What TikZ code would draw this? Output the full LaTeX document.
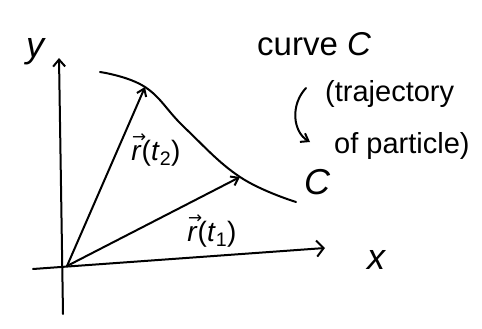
\documentclass[tikz,border=0pt]{standalone}
\usepackage{graphicx}
\usepackage{fontspec}
\setmainfont{Liberation Sans}
\newfontfamily\dv{DejaVu Sans}
\newcommand{\vecr}{\makebox[0pt][l]{\raisebox{0.62em}{\kern0.02em\dv\scalebox{0.6}{→}}}\textit{r}}
\usetikzlibrary{arrows.meta}
\begin{document}
\begin{tikzpicture}[x=1pt,y=-1pt,
  ink/.style={line width=2pt,line cap=round,line join=round},
  vec/.style={ink,-{Straight Barb[length=7pt,width=10pt]}},
  lab/.style={font=\fontsize{28}{30}\selectfont,inner sep=1pt},
  txt/.style={font=\fontsize{29}{32}\selectfont,inner sep=1pt,anchor=west},
  axlab/.style={font=\fontsize{36}{38}\selectfont\itshape,inner sep=1pt}]
\useasboundingbox (0,0) rectangle (482,329);
% points
\coordinate (O) at (67,266);
\coordinate (Ybot) at (63,314);
\coordinate (Ytop) at (59,58);
\coordinate (Xl) at (33,269);
\coordinate (Xr) at (325,248);
\coordinate (P2) at (145,87);
\coordinate (P1) at (240,177);
% axes
\draw[ink,-{Straight Barb[length=7pt,width=12pt]}] (Ybot) -- (Ytop);
\draw[ink,-{Straight Barb[length=7pt,width=16pt]}] (Xl) -- (Xr);
\node[axlab] (ylab) at (35,52) {y};
\node[axlab] (xlab) at (376,260) {x};
% curve
\draw[ink] plot[smooth,tension=0.7] coordinates {(100,72) (145,87) (185,128) (240,177) (296,202)};
% vectors
\draw[vec] (O) -- (P2);
\draw[vec] (O) -- (P1);
\node[lab] (r2) at (156,150) {\vecr(\textit{t}\textsubscript{2})};
\node[lab] (r1) at (212,231) {\vecr(\textit{t}\textsubscript{1})};
% annotations
\node[txt,font=\fontsize{33}{35}\selectfont] (curve) at (256,44) {curve \textit{C}};
\node[txt] (traj) at (324,94) {(trajectory};
\node[txt] (part) at (333,146) {of particle)};
\node[axlab] (cc) at (317,182) {C};
\coordinate (a1) at (306,88);
\coordinate (a2) at (310,142);
\draw[vec] (a1) .. controls (290,105) and (293,132) .. (a2);
\end{tikzpicture}
\end{document}
